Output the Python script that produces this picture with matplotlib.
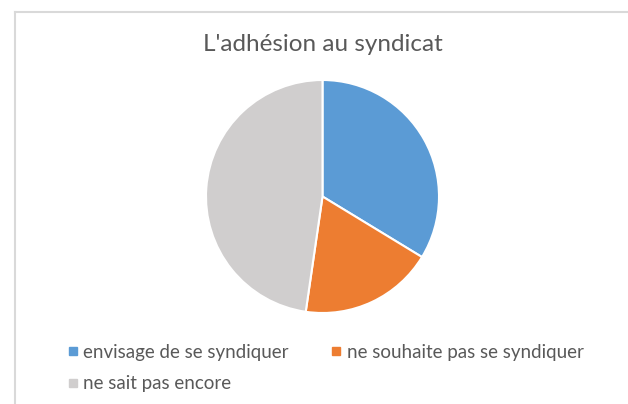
import matplotlib.pyplot as plt
from matplotlib.lines import Line2D

plt.rcParams["font.family"] = ["Lato", "DejaVu Sans"]

labels = ["envisage de se syndiquer", "ne souhaite pas se syndiquer", "ne sait pas encore"]
shares = [33.7, 18.6, 47.7]
colors = ["#5b9bd5", "#ed7d31", "#d0cece"]

W, H = 628, 404
fig = plt.figure(figsize=(W / 100, H / 100), dpi=100)

# chart frame (left and top edges visible)
frame_col = "#d9d9d9"
fig.add_artist(Line2D([15 / W, 15 / W], [0, 1 - 11.5 / H], color=frame_col, lw=1.5))
fig.add_artist(Line2D([15 / W, 1], [1 - 11.5 / H, 1 - 11.5 / H], color=frame_col, lw=1.5))

fig.text(322.5 / W, 1 - 51 / H, "L'adhésion au syndicat", ha="center", va="baseline",
         fontsize=17.5, color="#595959")

cx, cy, r = 322.5, 196.5, 116.5
ax = fig.add_axes([(cx - r) / W, 1 - (cy + r) / H, 2 * r / W, 2 * r / H])
ax.pie(shares, colors=colors, startangle=90, counterclock=False,
       wedgeprops=dict(edgecolor="white", linewidth=1.5))
ax.set_xlim(-1, 1)
ax.set_ylim(-1, 1)
ax.set_aspect("equal")
ax.axis("off")

# row-major legend order: matplotlib fills columns first
order = [0, 2, 1]
handles = [Line2D([], [], marker="s", linestyle="none", markersize=5.8,
                  markerfacecolor=colors[i], markeredgecolor=colors[i]) for i in order]
fig.legend(handles, [labels[i] for i in order], ncol=2, loc="upper left",
           bbox_to_anchor=(68 / W, 1 - 344 / H), frameon=False,
           fontsize=13.5, labelcolor="#595959", handlelength=0.5,
           handletextpad=0.3, columnspacing=2.3, labelspacing=0.75,
           borderpad=0, borderaxespad=0)

fig.savefig("out.png", dpi=100, facecolor="white")
